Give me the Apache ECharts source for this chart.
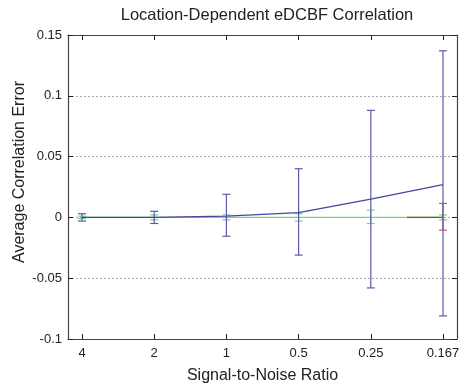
<!DOCTYPE html>
<html>
<head>
<meta charset="utf-8">
<script src="https://cdn.jsdelivr.net/npm/echarts@6/dist/echarts.min.js"></script>
<style>
  html, body { margin: 0; padding: 0; background: #fff; }
  #chart { width: 464px; height: 386px; }
</style>
</head>
<body>
<div id="chart"></div>
<script>
// x positions are category slots 1..6
const snrLabels = ['4', '2', '1', '0.5', '0.25', '0.167']
const snrIdx = [1, 2, 3, 4, 5, 6]

// blue curve with its error bars
const blueMean = [0, 0, 0.001, 0.004, 0.015, 0.027]
const blueLow = [-0.003, -0.005, -0.0155, -0.031, -0.058, -0.081]
const blueHigh = [0.003, 0.005, 0.019, 0.040, 0.088, 0.137]

// green curve (sits on zero)
const greenMean = [0, 0, 0, 0, 0, 0]
const greenLow = [-0.001, -0.002, -0.002, -0.003, -0.005, -0.002]
const greenHigh = [0.001, 0.002, 0.002, 0.003, 0.006, 0.002]

// red curve, only its last stretch shows
const redX = [5.5, 6]
const redMean = [0, 0]
const redBarX = [6]
const redLow = [-0.0105]
const redHigh = [0.0115]

const font = 'Liberation Sans, Arial, sans-serif'

function errBars(xs, lo, hi) {
  return xs.map((x, i) => [x, lo[i], hi[i]])
}

function barRenderer(color) {
  return function (params, api) {
    const x = api.value(0)
    const top = api.coord([x, api.value(2)])
    const bot = api.coord([x, api.value(1)])
    const w = 4
    const style = { stroke: color, lineWidth: 1.2 }
    return {
      type: 'group',
      children: [
        { type: 'line', shape: { x1: top[0], y1: top[1], x2: bot[0], y2: bot[1] }, style },
        { type: 'line', shape: { x1: top[0] - w, y1: top[1], x2: top[0] + w, y2: top[1] }, style },
        { type: 'line', shape: { x1: bot[0] - w, y1: bot[1], x2: bot[0] + w, y2: bot[1] }, style }
      ]
    }
  }
}

const chart = echarts.init(document.getElementById('chart'))

function axisLine() {
  return { show: true, onZero: false, lineStyle: { color: '#444', width: 1.2 } }
}
function tick(custom) {
  const t = { show: true, inside: true, length: 5, lineStyle: { color: '#222', width: 1 } }
  if (custom) t.customValues = custom
  return t
}

chart.setOption({
  animation: false,
  title: {
    text: 'Location-Dependent eDCBF Correlation',
    left: 262,
    top: 2,
    textAlign: 'center',
    textStyle: { fontFamily: font, fontSize: 16.5, fontWeight: 'normal', color: '#222' }
  },
  graphic: [{
    type: 'text',
    x: 20,
    y: 172,
    rotation: Math.PI / 2,
    style: {
      text: 'Average Correlation Error',
      fontFamily: font,
      fontSize: 16,
      fill: '#222',
      align: 'center',
      verticalAlign: 'middle'
    }
  }],
  grid: {
    left: 68,
    right: 7,
    top: 35,
    bottom: 47,
    outerBoundsMode: 'none'
  },
  xAxis: [
    {
      type: 'value',
      min: 0.806,
      max: 6.194,
      position: 'bottom',
      axisLine: axisLine(),
      axisTick: tick(snrIdx),
      splitLine: { show: false },
      name: 'Signal-to-Noise Ratio',
      nameLocation: 'middle',
      nameGap: 29,
      nameTextStyle: { fontFamily: font, fontSize: 16, color: '#222' },
      axisLabel: {
        customValues: snrIdx,
        formatter: v => snrLabels[Math.round(v) - 1],
        fontFamily: font,
        fontSize: 13,
        color: '#222',
        margin: 8
      }
    },
    {
      type: 'value',
      min: 0.806,
      max: 6.194,
      position: 'top',
      axisLine: axisLine(),
      axisTick: tick(snrIdx),
      splitLine: { show: false },
      axisLabel: { show: false, customValues: snrIdx }
    }
  ],
  yAxis: [
    {
      type: 'value',
      min: -0.1,
      max: 0.15,
      interval: 0.05,
      position: 'left',
      axisLine: axisLine(),
      axisTick: tick(),
      axisLabel: {
        formatter: v => String(+v.toFixed(2)),
        fontFamily: font,
        fontSize: 13,
        color: '#222',
        margin: 6
      },
      splitLine: { show: true, lineStyle: { color: '#aaa', type: [2, 2], width: 1 } }
    },
    {
      type: 'value',
      min: -0.1,
      max: 0.15,
      interval: 0.05,
      position: 'right',
      axisLine: axisLine(),
      axisTick: tick(),
      axisLabel: { show: false },
      splitLine: { show: false }
    }
  ],
  series: [
    {
      type: 'line',
      data: snrIdx.map((x, i) => [x, greenMean[i]]),
      symbol: 'none',
      lineStyle: { color: '#70dc70', width: 1.3 },
      z: 2
    },
    {
      type: 'custom',
      renderItem: barRenderer('#7fcf9a'),
      data: errBars(snrIdx, greenLow, greenHigh),
      z: 2
    },
    {
      type: 'line',
      data: redX.map((x, i) => [x, redMean[i]]),
      symbol: 'none',
      lineStyle: { color: '#6b6030', width: 1.3 },
      z: 3
    },
    {
      type: 'custom',
      renderItem: barRenderer('#c46060'),
      data: errBars(redBarX, redLow, redHigh),
      z: 3
    },
    {
      type: 'line',
      data: snrIdx.map((x, i) => [x, blueMean[i]]),
      symbol: 'none',
      lineStyle: { color: '#4646a0', width: 1.2 },
      z: 4
    },
    {
      type: 'custom',
      renderItem: barRenderer('#5a5aa8'),
      data: errBars(snrIdx, blueLow, blueHigh),
      z: 4
    }
  ]
})
</script>
</body>
</html>
